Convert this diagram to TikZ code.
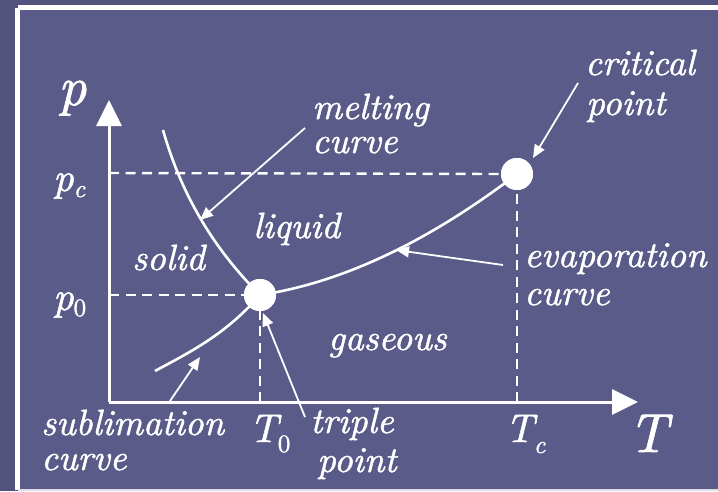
\documentclass[tikz,border=0pt]{standalone}
\usepackage{fontspec}
\setmainfont{lmroman10-regular.otf}[ItalicFont=lmroman10-italic.otf, ItalicFeatures={FakeBold=1.3}, UprightFeatures={FakeBold=1.3}]
\usetikzlibrary{arrows.meta}
\definecolor{outerbg}{RGB}{82,82,124}
\definecolor{innerbg}{RGB}{91,91,138}
\tikzset{
  lbl/.style={text=white, inner sep=0pt, anchor=base west, font=\fontsize{36.5}{40}\selectfont\itshape},
  axlbl/.style={text=white, inner sep=0pt, anchor=base west, font=\fontsize{55}{58}\selectfont\itshape},
  symlbl/.style={text=white, inner sep=0pt, anchor=base west, font=\fontsize{40}{42}\selectfont\itshape},
  axis/.style={white, line width=3pt, -{Triangle[length=26pt,width=25pt]}},
  pointer/.style={white, line width=1.8pt, -{Triangle[length=13pt,width=11pt]}},
  dashline/.style={white, line width=2.4pt, dash pattern=on 10pt off 6.5pt},
  phase/.style={white, line width=2.6pt},
  dot/.style={circle, fill=white, minimum size=32pt, inner sep=0pt}
}
\newcommand{\subsc}[2]{\raisebox{-#1pt}{\fontsize{25}{26}\selectfont #2}}
\begin{document}
\begin{tikzpicture}[x=1pt,y=-1pt]
\useasboundingbox (0,0) rectangle (718,491);
\fill[outerbg] (0,0) rectangle (718,491);
\fill[innerbg] (17.5,7.5) rectangle (730,490);
\draw[white, line width=5pt] (17.5,7.5) -- (730,7.5);
\draw[white, line width=5pt] (17.5,7.5) -- (17.5,490);
\draw[white!80!innerbg, line width=2pt] (17.5,490) -- (730,490);

% key points
\coordinate (O) at (109,402);
\coordinate (ytop) at (109,100);
\coordinate (xend) at (638,402);
\node[dot] (tp) at (260,295) {};
\node[dot] (cp) at (517,174) {};
\coordinate (pcaxis) at (109,173);
\coordinate (p0axis) at (109,295);
\coordinate (T0axis) at (260,402);
\coordinate (Tcaxis) at (517,402);

% dashed guides
\draw[dashline] (pcaxis) -- (cp.west);
\draw[dashline] (p0axis) -- (tp.west);
\draw[dashline] (T0axis) -- (tp.south);
\draw[dashline] (Tcaxis) -- (cp.south);

% axes
\draw[axis] (O) -- (ytop);
\draw[axis] (O) -- (xend);

% phase curves
\coordinate (meltstart) at (163,130);
\coordinate (sublstart) at (155,371);
\draw[phase] (meltstart) .. controls (180,190) and (210,245) .. (tp.center);
\draw[phase] (sublstart) .. controls (190,352) and (225,335) .. (tp.center);
\draw[phase] (tp.center) .. controls (360,280) and (450,225) .. (cp.center);

% dots on top
\node[dot] at (tp.center) {};
\node[dot] at (cp.center) {};

% labels
\node[axlbl] (plbl) at (58,105) {p};
\node[axlbl] (Tlbl) at (628,452) {T};
\node[symlbl] (pc) at (53,191) {p\subsc{6}{c}};
\node[symlbl] (p0) at (53,310) {p\subsc{6}{\upshape 0}};
\node[symlbl] (T0) at (249,442) {T\subsc{10}{\upshape 0}};
\node[symlbl] (Tc) at (505,442) {T\subsc{11}{c}};

\node[lbl] (melt1) at (312,119) {melting};
\node[lbl] (melt2) at (312,153) {curve};
\node[lbl] (crit1) at (585,75) {critical};
\node[lbl] (crit2) at (586,115) {point};
\node[lbl] (liq) at (253,238) {liquid};
\node[lbl] (sol) at (132,270) {solid};
\node[lbl] (gas) at (328,350) {gaseous};
\node[lbl] (evap1) at (524,267) {evaporation};
\node[lbl] (evap2) at (524,305) {curve};
\node[lbl] (subl1) at (41,435) {sublimation};
\node[lbl] (subl2) at (41,470) {curve};
\node[lbl] (trip1) at (310,433) {triple};
\node[lbl] (trip2) at (317,472) {point};

% pointers
\coordinate (a1s) at (305,128); \coordinate (a1e) at (200,220);
\coordinate (a2s) at (578,83);  \coordinate (a2e) at (533,158);
\coordinate (a3s) at (503,265); \coordinate (a3e) at (396,250);
\coordinate (a4s) at (170,401); \coordinate (a4e) at (200,357);
\coordinate (a5s) at (305,417); \coordinate (a5e) at (263,313);
\draw[pointer] (a1s) -- (a1e);
\draw[pointer] (a2s) -- (a2e);
\draw[pointer] (a3s) -- (a3e);
\draw[pointer] (a4s) -- (a4e);
\draw[pointer] (a5s) -- (a5e);
\end{tikzpicture}
\end{document}
